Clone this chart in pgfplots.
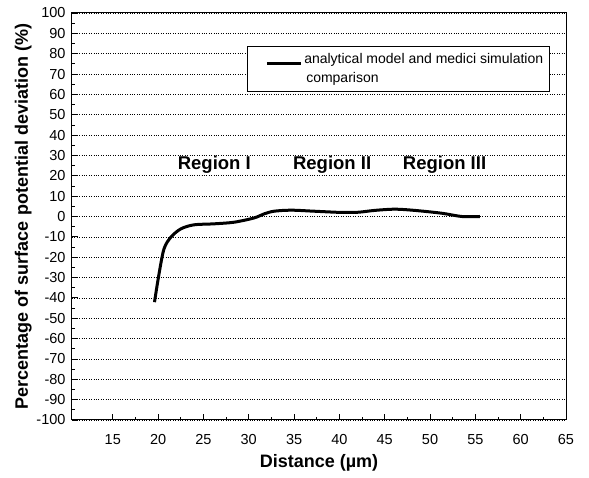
\documentclass[border=0pt]{standalone}
\usepackage{pgfplots}
\pgfplotsset{compat=1.18}
\usepackage{fontspec}
\setmainfont{Liberation Sans}
\begin{document}
\begin{tikzpicture}[x=1pt,y=1pt]
\path[use as bounding box] (-72,-58) rectangle (517,420);
\begin{axis}[
  scale only axis,
  width=494pt, height=407pt,
  at={(0,0)}, anchor=south west,
  xmin=10.5, xmax=65, ymin=-100, ymax=100,
  xtick={15,20,...,65},
  ytick={-100,-90,...,100},
  minor x tick num=1, minor y tick num=1,
  tick pos=left, tick align=inside,
  major tick length=6pt, minor tick length=3pt,
  ymajorgrids, grid style={black, dotted, line width=0.6pt},
  axis line style={line width=1pt},
  tick style={black, line width=0.8pt},
  /pgf/number format/assume math mode=true,
  ticklabel style={font=\fontsize{14.5}{16}\selectfont},
  xticklabel style={yshift=-11pt},
  yticklabel style={xshift=-3pt},
  xlabel={\textbf{Distance (µm)}},
  ylabel={\textbf{Percentage of surface potential deviation (\%)}},
  label style={font=\fontsize{18}{20}\selectfont},
  xlabel style={at={(rel axis cs:0.5,0)}, anchor=center, yshift=-43pt},
  ylabel style={yshift=-2pt},
  legend style={at={(0.355,0.918)}, anchor=north west, draw=black, line width=0.8pt,
    font=\fontsize{14}{19}\selectfont, inner xsep=4pt, inner ysep=5pt,
    cells={align=left, anchor=west}},
  legend image code/.code={\path[draw=none,fill=none] (0pt,6pt) rectangle (15pt,6.1pt); \draw[line width=3pt] (15pt,6pt) -- (49pt,6pt);},
]
\addplot[black, line width=3pt, smooth, tension=0.5] coordinates {
(19.6,-42.1) (20.1,-28.2) (20.65,-15.9) (21.4,-10.2) (22.5,-6.1) (23.95,-4.1)
(26.2,-3.6) (28.4,-2.8) (30.6,-0.7) (31.7,1.3) (32.8,2.6) (34.7,3.1)
(37.2,2.6) (40.2,2.0) (42.1,2.1) (43.9,3.0) (46.1,3.6) (48.3,3.0)
(51.3,1.6) (53.5,0.0) (55.5,0.0)
};
\addlegendentry{analytical model and medici simulation\\\hspace*{2pt}comparison}
\node[font=\fontsize{18.5}{20}\selectfont\bfseries] at (axis cs:26.2,25.5) {Region I};
\node[font=\fontsize{18.5}{20}\selectfont\bfseries] at (axis cs:39.2,25.5) {Region II};
\node[font=\fontsize{18.5}{20}\selectfont\bfseries] at (axis cs:51.6,25.5) {Region III};
\node[font=\fontsize{17}{19}\selectfont\bfseries, anchor=west] at (rel axis cs:-0.148,-0.106) {(a)};
\end{axis}
\end{tikzpicture}
\end{document}
